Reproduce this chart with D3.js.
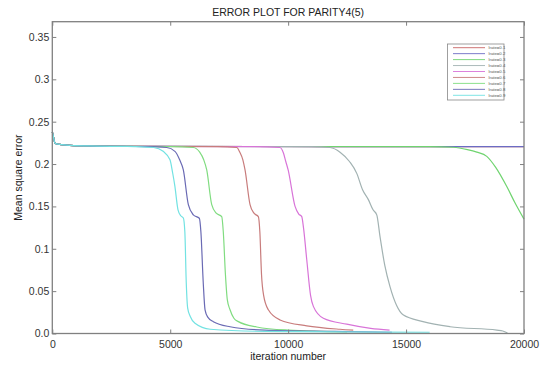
<!DOCTYPE html>
<html>
<head>
<meta charset="utf-8">
<script src="https://cdn.jsdelivr.net/npm/d3@7"></script>
<style>
  body { margin: 0; background: #fff; }
  svg { display: block; font-family: "Liberation Sans", Arial, sans-serif; }
</style>
</head>
<body>
<div id="chart"></div>
<script>
// values: [iteration, mean square error]
const startPoints = [[0, 0.238], [50, 0.232], [115, 0.2246], [300, 0.2232], [610, 0.2224], [1500, 0.2214], [3000, 0.2208]];

const lr01 = [[20000, 0.2206]];
const lr02 = [[20000, 0.2206]];
const lr03 = [[16000, 0.2206], [17006, 0.2198], [17600, 0.217], [18000, 0.214], [18422, 0.209], [18800, 0.196],
  [19270, 0.1734], [19622, 0.154], [20000, 0.135]];
const lr04 = [[11000, 0.2206], [11777, 0.2195], [12200, 0.214], [12600, 0.203], [12909, 0.189], [13150, 0.170],
  [13401, 0.158], [13600, 0.146], [13757, 0.140], [13897, 0.114], [14100, 0.08], [14321, 0.055], [14600, 0.033],
  [14873, 0.022], [15721, 0.014], [16866, 0.008], [18846, 0.004], [19100, 0.003], [19300, 0.0005]];
const lr05 = [[8500, 0.2206], [9650, 0.2195], [9800, 0.213], [9900, 0.203], [10000, 0.193], [10293, 0.150],
  [10450, 0.141], [10577, 0.138], [10650, 0.125], [10789, 0.087], [10950, 0.045], [11069, 0.032], [11493, 0.018],
  [12485, 0.011], [13500, 0.006], [14300, 0.004]];
const lr06 = [[7000, 0.2206], [7820, 0.2195], [7950, 0.214], [8080, 0.205], [8172, 0.193], [8384, 0.152],
  [8550, 0.142], [8736, 0.138], [8800, 0.12], [8870, 0.07], [8960, 0.045], [9160, 0.028], [9656, 0.016],
  [10789, 0.009], [12200, 0.005], [12760, 0.004]];
const lr07 = [[5000, 0.2206], [5980, 0.2195], [6250, 0.214], [6420, 0.205], [6548, 0.193], [6760, 0.152],
  [6950, 0.142], [7184, 0.138], [7250, 0.12], [7340, 0.07], [7420, 0.04], [7536, 0.028], [7700, 0.018],
  [7888, 0.014], [8668, 0.0077], [10000, 0.004], [12500, 0.002]];
const lr08 = [[4000, 0.2206], [4850, 0.2195], [5200, 0.215], [5400, 0.205], [5556, 0.193], [5768, 0.152],
  [5980, 0.140], [6234, 0.136], [6300, 0.12], [6400, 0.06], [6476, 0.028], [6600, 0.019], [6828, 0.0139],
  [7536, 0.008], [9000, 0.004], [12000, 0.0025], [14400, 0.0015]];
const lr09 = [[3500, 0.2206], [4300, 0.2195], [4700, 0.215], [4990, 0.205], [5100, 0.19], [5200, 0.1734],
  [5330, 0.146], [5450, 0.139], [5556, 0.1364], [5620, 0.12], [5680, 0.06], [5740, 0.03], [5850, 0.02],
  [6050, 0.012], [6700, 0.005], [9000, 0.0025], [16000, 0.0015]];

const seriesNames = ["lrate=0.1", "lrate=0.2", "lrate=0.3", "lrate=0.4", "lrate=0.5", "lrate=0.6", "lrate=0.7", "lrate=0.8", "lrate=0.9"];
const seriesTails = [lr01, lr02, lr03, lr04, lr05, lr06, lr07, lr08, lr09];
const seriesColors = ["#c86464", "#6c6cc4", "#70d470", "#a2b2b2", "#d874d8", "#c87c7c", "#80dc80", "#6a6ab4", "#72e2e2"];

const xTicks = [0, 5000, 10000, 15000, 20000];
const xTickLabels = ["0", "5000", "10000", "15000", "20000"];
const yTicks = [0, 0.05, 0.1, 0.15, 0.2, 0.25, 0.3, 0.35];
const yTickLabels = ["0.0", "0.05", "0.1", "0.15", "0.2", "0.25", "0.3", "0.35"];

const width = 544, height = 365;
const margin = {top: 21.7, right: 20, bottom: 31.5, left: 52.3};
const innerW = width - margin.left - margin.right;
const innerH = height - margin.top - margin.bottom;

const svg = d3.select('#chart').append('svg')
  .attr('width', width).attr('height', height);

const x = d3.scaleLinear().domain([0, 20000]).range([0, innerW]);
const y = d3.scaleLinear().domain([0, 0.368]).range([innerH, 0]);

const g = svg.append('g').attr('transform', 'translate(' + margin.left + ',' + margin.top + ')');

const line = d3.line()
  .x((d) => x(d[0]))
  .y((d) => y(d[1]))
  .curve(d3.curveMonotoneX);

seriesTails.forEach((tail, i) => {
  g.append('path')
    .datum(startPoints.concat(tail))
    .attr('fill', 'none')
    .attr('stroke', seriesColors[i])
    .attr('stroke-width', 1.2)
    .attr('d', line);
});

// box with inward ticks on every side
const axisColor = '#808080';
function styleAxis(sel) {
  sel.select('.domain').remove();
  sel.selectAll('.tick line').attr('stroke', axisColor);
  sel.selectAll('.tick text').attr('fill', '#333').style('font-size', '10.5px');
}

g.append('g').attr('transform', 'translate(0,' + innerH + ')')
  .call(d3.axisBottom(x).tickValues(xTicks).tickSize(-4).tickPadding(7)
    .tickFormat((d, i) => xTickLabels[i]))
  .call(styleAxis);
g.append('g')
  .call(d3.axisTop(x).tickValues(xTicks).tickSize(-4).tickFormat(''))
  .call(styleAxis);
g.append('g')
  .call(d3.axisLeft(y).tickValues(yTicks).tickSize(-4).tickPadding(3)
    .tickFormat((d, i) => yTickLabels[i]))
  .call(styleAxis);
g.append('g').attr('transform', 'translate(' + innerW + ',0)')
  .call(d3.axisRight(y).tickValues(yTicks).tickSize(-4).tickFormat(''))
  .call(styleAxis);

g.append('rect')
  .attr('width', innerW).attr('height', innerH)
  .attr('fill', 'none').attr('stroke', axisColor).attr('stroke-width', 1.3);

// legend
const legend = g.append('g').attr('transform', 'translate(' + (447.5 - margin.left) + ',' + (44 - margin.top) + ')');
legend.append('rect')
  .attr('width', 56.5).attr('height', 56)
  .attr('fill', '#fff').attr('stroke', '#888').attr('stroke-width', 0.8);
seriesNames.forEach((name, i) => {
  const ly = 3.7 + i * 5.95;
  legend.append('line')
    .attr('x1', 5.5).attr('x2', 37.5).attr('y1', ly).attr('y2', ly)
    .attr('stroke', seriesColors[i]).attr('stroke-width', 0.9);
  legend.append('text')
    .attr('x', 41).attr('y', ly + 1.5)
    .attr('fill', '#555').style('font-size', '4.3px')
    .text(name);
});

svg.append('text')
  .attr('x', margin.left + innerW / 2).attr('y', 16)
  .attr('text-anchor', 'middle').attr('fill', '#222')
  .style('font-size', '10.5px')
  .text('ERROR PLOT FOR PARITY4(5)');

svg.append('text')
  .attr('x', margin.left + innerW / 2).attr('y', 360)
  .attr('text-anchor', 'middle').attr('fill', '#222')
  .style('font-size', '10.5px')
  .text('iteration number');

svg.append('text')
  .attr('transform', 'translate(22,' + (margin.top + innerH / 2) + ') rotate(-90)')
  .attr('text-anchor', 'middle').attr('fill', '#222')
  .style('font-size', '10.5px')
  .text('Mean square error');
</script>
</body>
</html>
